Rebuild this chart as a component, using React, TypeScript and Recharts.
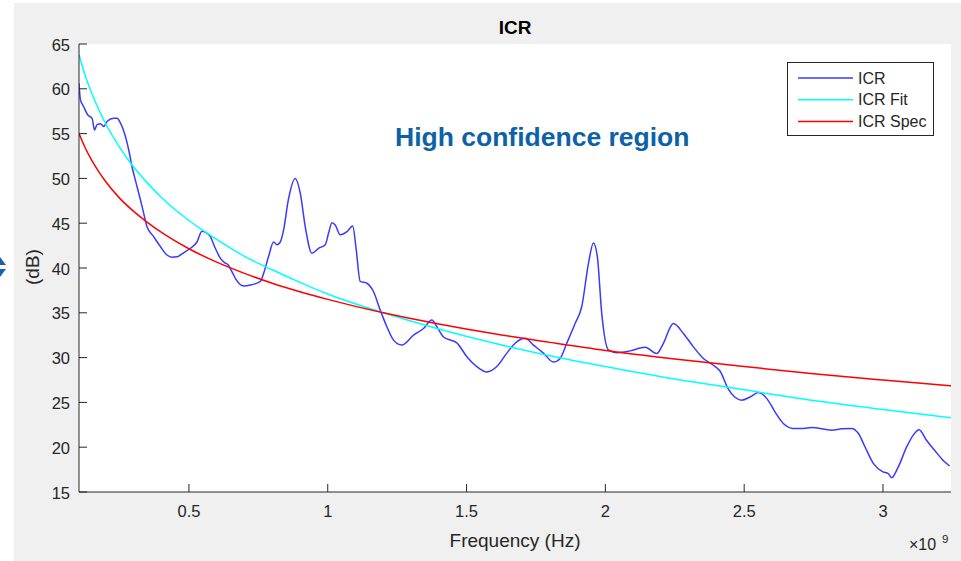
import { CartesianGrid, Legend, Line, LineChart, XAxis, YAxis } from "recharts";

// x axis in units of 1e9 Hz
const freqTicks = [0.5, 1, 1.5, 2, 2.5, 3];
const dbTicks = [15, 20, 25, 30, 35, 40, 45, 50, 55, 60, 65];

// measured ICR trace (frequency in GHz, level in dB)
const icrFreq = [
  0.104, 0.109, 0.121, 0.135, 0.151, 0.16, 0.169, 0.181, 0.193, 0.205, 0.229, 0.241, 0.253, 0.271, 0.283,
  0.295, 0.313, 0.331, 0.349, 0.373, 0.397, 0.421, 0.439, 0.457, 0.481, 0.505, 0.529, 0.547, 0.559, 0.577,
  0.595, 0.613, 0.628, 0.64, 0.658, 0.67, 0.697, 0.721, 0.757, 0.769, 0.787, 0.805, 0.817, 0.829, 0.841,
  0.858, 0.883, 0.901, 0.919, 0.943, 0.967, 0.991, 1.003, 1.015, 1.027, 1.045, 1.069, 1.09, 1.102, 1.117,
  1.141, 1.165, 1.189, 1.213, 1.237, 1.267, 1.309, 1.345, 1.375, 1.393, 1.417, 1.465, 1.501, 1.537, 1.573,
  1.609, 1.645, 1.675, 1.711, 1.741, 1.777, 1.813, 1.837, 1.861, 1.891, 1.915, 1.939, 1.957, 1.971, 1.987,
  2.011, 2.041, 2.089, 2.143, 2.185, 2.209, 2.245, 2.281, 2.317, 2.353, 2.389, 2.413, 2.442, 2.466, 2.491,
  2.521, 2.551, 2.581, 2.611, 2.641, 2.677, 2.713, 2.743, 2.815, 2.851, 2.887, 2.911, 2.935, 2.965, 3.0,
  3.019, 3.031, 3.055, 3.085, 3.109, 3.13, 3.156, 3.186, 3.216, 3.24,
];
const icrDb = [
  60.6, 58.8, 58.0, 57.1, 56.7, 55.4, 56.0, 56.1, 55.8, 56.35, 56.7, 56.7, 56.2, 54.7, 53.2,
  51.3, 49.1, 46.9, 44.6, 43.5, 42.4, 41.45, 41.2, 41.25, 41.7, 42.2, 42.9, 44.1, 44.0, 43.5,
  42.2, 41.1, 40.6, 40.4, 39.4, 38.7, 38.0, 38.1, 38.5, 39.4, 41.3, 42.9, 42.6, 42.9, 44.25,
  47.6, 50.0, 48.35, 44.6, 41.65, 42.2, 42.6, 43.9, 45.05, 44.8, 43.7, 44.05, 44.7, 42.2, 38.5,
  38.3, 37.35, 35.3, 33.45, 31.95, 31.4, 32.5, 33.25, 34.2, 33.45, 32.3, 31.65, 30.1, 29.0, 28.4,
  29.0, 30.5, 31.6, 32.15, 31.4, 30.5, 29.5, 29.9, 31.6, 33.8, 35.7, 40.5, 42.8, 41.3, 34.9,
  30.85, 30.55, 30.75, 31.15, 30.45, 31.6, 33.8, 32.7, 31.2, 29.9, 29.15, 28.5, 26.55, 25.6, 25.25,
  25.6, 26.1, 25.45, 23.95, 22.65, 22.1, 22.1, 22.2, 21.9, 22.05, 22.1, 21.55, 20.05, 18.2, 17.25,
  17.05, 16.6, 17.8, 20.0, 21.35, 21.95, 20.8, 19.65, 18.55, 17.9,
];

// fit and spec curves, read at these frequencies
const curveFreq = [
  0.104, 0.125, 0.15, 0.175, 0.2, 0.25, 0.3, 0.35, 0.4, 0.5, 0.6, 0.7, 0.8, 0.9, 1.0, 1.2, 1.4, 1.6, 1.8,
  2.0, 2.25, 2.5, 2.75, 3.0, 3.245,
];
const fitDb = [
  63.8, 61.6, 59.5, 57.7, 56.1, 53.5, 51.3, 49.5, 47.9, 45.3, 43.2, 41.3, 39.8, 38.4, 37.1, 35.0, 33.2,
  31.6, 30.2, 29.0, 27.6, 26.4, 25.2, 24.2, 23.3,
];
const specDb = [
  55.0, 53.5, 52.0, 50.75, 49.65, 47.8, 46.35, 45.1, 44.0, 42.15, 40.65, 39.4, 38.3, 37.35, 36.5, 35.0,
  33.75, 32.65, 31.7, 30.8, 29.85, 29.0, 28.2, 27.5, 26.85,
];

const icrData = icrFreq.map((f, i) => ({ f, db: icrDb[i] }));
const fitData = curveFreq.map((f, i) => ({ f, db: fitDb[i] }));
const specData = curveFreq.map((f, i) => ({ f, db: specDb[i] }));

const AXIS = "#262626";
const FONT = "'Liberation Sans', Arial, Helvetica, sans-serif";

function BottomTick(props: any) {
  const { x, y, payload } = props;
  return (
    <g>
      <line x1={x} x2={x} y1={y} y2={y - 8} stroke={AXIS} />
      <text x={x} y={y + 25} textAnchor="middle" fontSize={16.5} fill={AXIS} fontFamily={FONT}>
        {payload.value}
      </text>
    </g>
  );
}

function TopTick(props: any) {
  const { x, y } = props;
  return <line x1={x} x2={x} y1={y} y2={y + 8} stroke={AXIS} />;
}

function LeftTick(props: any) {
  const { x, y, payload } = props;
  return (
    <g>
      <line x1={x} x2={x + 8} y1={y} y2={y} stroke={AXIS} />
      <text x={x - 9} y={y + 6.5} textAnchor="end" fontSize={16.5} fill={AXIS} fontFamily={FONT}>
        {payload.value}
      </text>
    </g>
  );
}

function RightTick(props: any) {
  const { x, y } = props;
  return <line x1={x} x2={x - 8} y1={y} y2={y} stroke={AXIS} />;
}

function LegendBox({ payload }: any) {
  return (
    <svg width={148} height={75} style={{ display: "block" }}>
      <rect x={0.5} y={0.5} width={146} height={73} fill="#fff" stroke={AXIS} />
      {(payload || []).map((entry: any, i: number) => {
        const cy = 16 + i * 21.8;
        return (
          <g key={entry.value}>
            <line x1={11} x2={66} y1={cy} y2={cy} stroke={entry.color} strokeWidth={1.5} />
            <text x={71} y={cy + 5.5} fontSize={16} fill={AXIS} fontFamily={FONT}>
              {entry.value}
            </text>
          </g>
        );
      })}
    </svg>
  );
}

export default function App() {
  return (
    <div style={{ position: "absolute", left: 0, top: 0, width: 961, height: 561, background: "#fff", overflow: "hidden" }}>
      <div style={{ position: "absolute", left: 14, top: 3, width: 947, height: 558, background: "#f0f0f0" }} />
      <div style={{ position: "absolute", left: 0, top: 0 }}>
        <LineChart width={961} height={561} margin={{ top: 44, right: 10, bottom: 0, left: 0 }}>
          <CartesianGrid horizontal={false} vertical={false} fill="#fff" />
          <XAxis
            type="number"
            dataKey="f"
            domain={[0.104, 3.245]}
            allowDataOverflow
            ticks={freqTicks}
            interval={0}
            height={69}
            tickSize={0}
            tickMargin={0}
            tickLine={false}
            tick={<BottomTick />}
            axisLine={{ stroke: AXIS }}
          />
          <XAxis
            xAxisId="top"
            orientation="top"
            type="number"
            domain={[0.104, 3.245]}
            allowDataOverflow
            ticks={freqTicks}
            interval={0}
            height={0}
            tickSize={0}
            tickMargin={0}
            tickLine={false}
            tick={<TopTick />}
            axisLine={{ stroke: AXIS }}
          />
          <YAxis
            type="number"
            domain={[15, 65]}
            allowDataOverflow
            ticks={dbTicks}
            interval={0}
            width={79}
            tickSize={0}
            tickMargin={0}
            tickLine={false}
            tick={<LeftTick />}
            axisLine={{ stroke: AXIS }}
          />
          <YAxis
            yAxisId="right"
            orientation="right"
            type="number"
            domain={[15, 65]}
            allowDataOverflow
            ticks={dbTicks}
            interval={0}
            width={0}
            tickSize={0}
            tickMargin={0}
            tickLine={false}
            tick={<RightTick />}
            axisLine={{ stroke: AXIS }}
          />
          <Legend
            layout="vertical"
            align="center"
            verticalAlign="middle"
            content={<LegendBox />}
            wrapperStyle={{ left: 787, top: 62, width: 148, height: 75 }}
          />
          <Line
            data={icrData}
            dataKey="db"
            name="ICR"
            type="monotone"
            stroke="#3a3aff"
            strokeWidth={1.5}
            dot={false}
            isAnimationActive={false}
          />
          <Line
            data={fitData}
            dataKey="db"
            name="ICR Fit"
            type="monotone"
            stroke="#00ffff"
            strokeWidth={1.5}
            dot={false}
            isAnimationActive={false}
          />
          <Line
            data={specData}
            dataKey="db"
            name="ICR Spec"
            type="monotone"
            stroke="#ff0000"
            strokeWidth={1.5}
            dot={false}
            isAnimationActive={false}
          />
        </LineChart>
      </div>
      <svg
        width={961}
        height={561}
        style={{ position: "absolute", left: 0, top: 0, pointerEvents: "none" }}
        fontFamily={FONT}
      >
        <text x={515} y={34} textAnchor="middle" fontSize={19} fontWeight="bold" fill="#000">
          ICR
        </text>
        <text x={395} y={146} fontSize={26.5} fontWeight="bold" fill="#0d62a6">
          High confidence region
        </text>
        <text
          x={32}
          y={267}
          textAnchor="middle"
          dominantBaseline="central"
          fontSize={19}
          fill={AXIS}
          transform="rotate(-90 32 267)"
        >
          (dB)
        </text>
        <text x={515} y={547} textAnchor="middle" fontSize={19} fill={AXIS}>
          Frequency (Hz)
        </text>
        <text x={909} y={550} fontSize={16} fill={AXIS}>
          ×10
        </text>
        <text x={942} y={543} fontSize={11.5} fill={AXIS}>
          9
        </text>
        <polygon points="0,257 6,265 0,265" fill="#1a5fb4" />
        <polygon points="0,269 6,269 0,277" fill="#1a5fb4" />
      </svg>
    </div>
  );
}
